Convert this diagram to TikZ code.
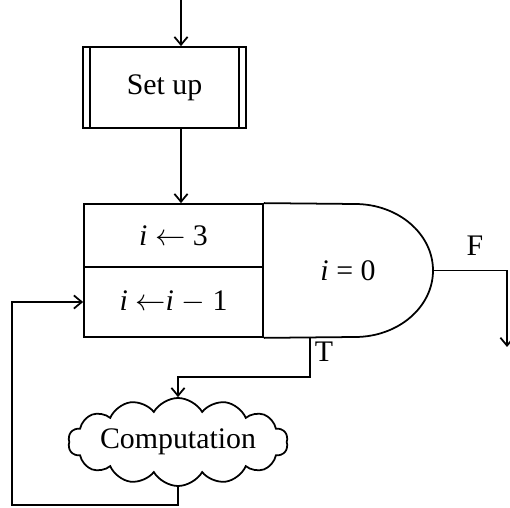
\documentclass[tikz,border=0pt]{standalone}
\usepackage{fontspec}
\setmainfont{Liberation Serif}
\usepackage{tikz}
\usetikzlibrary{arrows.meta, positioning, shapes.symbols, calc}

\begin{document}
\begin{tikzpicture}[
    x=0.02cm, y=0.02cm,
    font=\fontsize{17}{20}\selectfont,
    line width=1pt,
    proc/.style={
        rectangle, draw=black, minimum width=163*0.02cm, minimum height=81*0.02cm,
        inner sep=0pt,
        path picture={
            \draw ([xshift=4pt]path picture bounding box.north west) -- ([xshift=4pt]path picture bounding box.south west);
            \draw ([xshift=-4pt]path picture bounding box.north east) -- ([xshift=-4pt]path picture bounding box.south east);
        }
    },
    assign/.style={
        rectangle, draw=black, minimum width=179*0.02cm, inner sep=0pt
    },
    blob/.style={
        cloud, draw=black, cloud puffs=14, cloud puff arc=120, cloud ignores aspect,
        minimum width=217*0.02cm, minimum height=88*0.02cm, inner sep=0pt
    },
    arrow/.style={-{Straight Barb[length=4.5pt, width=7.5pt]}},
    lbl/.style={inner sep=1pt}
]
    \useasboundingbox (0,0) rectangle (510,507);

    \coordinate (start) at (181,507);
    \node[proc] (setup) at (164.5,419.5) {Set up};
    \node[assign, minimum height=63*0.02cm] (init) at (173.5,271.5) {\textit{i} $\leftarrow$ 3};
    \node[assign, minimum height=70*0.02cm] (decr) at (173.5,205) {\textit{i} $\leftarrow$\textit{i} $-$ 1};

    % decision outline
    \draw (init.north east) -- (355,303)
        arc[start angle=90, end angle=-90, x radius=78, y radius=66.5]
        -- (decr.south east);
    \coordinate (tip) at (433,236.5);
    \node (test) at (348,236.5) {\textit{i} = 0};

    \node[blob] (comp) at (178,65) {Computation};

    \draw[arrow] (start) -- (setup.north -| start);
    \draw[arrow] (setup.south -| start) -- (init.north -| start);

    % F branch
    \coordinate (fout) at (507,160);
    \draw[arrow] (tip) -| (fout);
    \node[lbl] (flbl) at (475,261) {F};

    % T branch
    \coordinate (tout) at (310,170);
    \draw[arrow] (tout) -- (310,130) -| (comp.north);
    \node[lbl] (tlbl) at (324,155) {T};

    % loop back
    \draw[arrow] (comp.south) -- (comp.south |- 0,2) -- (12,2) |- (decr.west);
\end{tikzpicture}
\end{document}
